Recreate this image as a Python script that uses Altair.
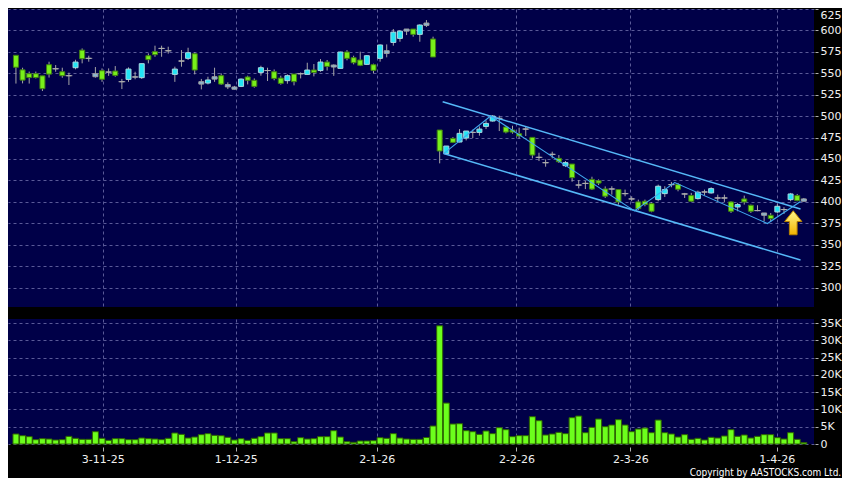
import altair as alt
import pandas as pd

# ---- data (trading-day index 0..119) ----
opens = [571, 554, 549.5, 549.5, 547, 560, 555.3, 551.8, 547.2, 556.5,
         577, 567.4, 546, 553, 551.4, 552.6, 540.2, 542.8, 545.7, 544.9,
         570.5, 575.2, 579, 576.3, 548.7, 564.3, 567.4, 572.8, 537.4, 538.6,
         543.2, 547.2, 534.1, 531.4, 534.7, 545.7, 541.8, 551, 553.2, 551.8,
         544.4, 541.4, 549.1, 549.5, 548.7, 553.8, 553.2, 563.1, 557.3, 555.7,
         574.8, 568.2, 565.5, 560.4, 560, 567.4, 573.2, 586, 590.7, 599.2,
         601.6, 595.4, 605.9, 590, 483.8, 456.2, 474, 469.8, 474.4, 481,
         481, 488, 494.3, 497.4, 487.3, 483.8, 479.5, 484.9, 475.2, 451.9,
         445.7, 455.4, 450.7, 442.2, 444.1, 419.6, 421.5, 426.2, 424.6, 415,
         415, 414.3, 409.6, 403.4, 399.9, 400.7, 397.9, 402.6, 409.6, 420.1,
         420.1, 409.2, 407.3, 403.8, 411.5, 410.4, 404.5, 404.5, 399.9, 394,
         403.4, 396, 389.8, 384.3, 384.3, 388.2, 391, 402.6, 407.3, 400.7]
highs = [571, 556.5, 552, 552, 547, 563.5, 559.6, 556.5, 550.7, 565.8,
         579, 570.5, 557.3, 555.7, 555.7, 558.4, 543.4, 556.9, 551.8, 561.2,
         573.2, 582.2, 582.2, 581, 557.7, 577.1, 579.8, 574.4, 543.4, 546,
         556.5, 549.9, 539.4, 535.3, 544, 547.2, 544, 558.8, 556.5, 554.5,
         547.2, 548.7, 549.1, 551, 562.3, 560.8, 566.6, 565.5, 560.4, 575.2,
         577.1, 570.5, 575.2, 571.3, 561.2, 583.7, 583.7, 601.6, 600.4, 601.6,
         601.6, 607.1, 612.1, 592.7, 483.8, 465.1, 475.6, 484.9, 482.6, 484.2,
         488, 495, 501.3, 500.5, 488, 488.8, 486.5, 487.7, 475.2, 457.3,
         449.5, 458.5, 454.6, 447.6, 444.1, 425.4, 424.3, 429.3, 426.2, 418,
         418.2, 414.3, 414.3, 406.5, 402.6, 402.6, 399.5, 420.1, 418.2, 423.2,
         422, 410.4, 410.4, 413.1, 414.3, 417, 408.4, 408.4, 400.7, 398.7,
         407.3, 396.8, 396, 387, 387, 397.5, 393.7, 410.4, 409.2, 404.5]
lows = [538, 538.2, 538, 544, 529.3, 545, 551.8, 544.8, 536.3, 554.6,
        561.6, 563.5, 544.9, 540, 547, 546, 531.6, 540, 543, 543.4,
        561.6, 569.3, 569.3, 572.9, 540, 557.7, 565.5, 548.7, 531.2, 537,
        540, 536.3, 531.6, 531, 533.9, 537, 533.2, 547.2, 541, 541.8,
        536.7, 537.8, 535.9, 544, 548.3, 546.4, 551.8, 553.2, 547, 555.7,
        565.1, 560.4, 558.4, 559.6, 549.9, 563.5, 568.6, 582.2, 586.8, 594.6,
        592.7, 586.8, 604, 569, 444.9, 455.4, 468.6, 469.4, 471.7, 474.4,
        477.2, 484.9, 493.5, 482.6, 479.9, 479.5, 474, 476.8, 450.7, 447.6,
        441, 450.7, 445.3, 440.6, 423.5, 415.7, 414.9, 413.8, 419.6, 404.6,
        408.4, 396.8, 406.5, 400.7, 390.5, 394.8, 387.8, 400.7, 405.7, 417,
        412.3, 404.5, 399.9, 402.6, 407.3, 409.6, 400.7, 399.9, 387, 389,
        396.8, 387, 389, 377.3, 376.5, 387, 385.9, 400.7, 400.7, 400.7]
closes = [557, 542, 545, 545, 532, 549, 555.3, 547.2, 547.2, 563.1,
          567, 567.4, 549.5, 543, 551.4, 547.5, 540.2, 554.9, 545.7, 561.2,
          565.9, 571.7, 579, 576.3, 554.9, 564.3, 574, 553.8, 540.2, 542.2,
          546, 537.4, 536.8, 534, 543.2, 541.8, 534.7, 556.5, 553.2, 544,
          538.2, 547.2, 540.2, 549.5, 553.8, 551, 563.1, 558, 559.6, 574.8,
          567.4, 562.3, 559.3, 570.5, 553.4, 583, 576.3, 598, 599.2, 601.6,
          595.4, 606.3, 608.6, 569, 459.3, 465.1, 469.4, 479.9, 482.6, 481,
          484.9, 491.5, 500.1, 497.4, 481.4, 481.4, 476.8, 484.9, 454.6, 451.9,
          445.7, 455.4, 446.8, 445.7, 428.2, 419.6, 421.5, 414.9, 421.9, 406.6,
          415, 399.9, 409.6, 403.4, 392.1, 396.8, 389, 418.2, 414.3, 420.1,
          414.7, 409.2, 400.7, 411.2, 411.5, 415.4, 404.5, 404.5, 389, 396.8,
          399.9, 389, 389.8, 387, 380.4, 394.8, 391, 409.2, 401.4, 403.4]
volumes = [2890, 2400, 2120, 1250, 1540, 1440, 1160, 1250, 2210, 1640,
           1350, 1350, 3560, 1640, 1060, 1540, 1540, 1250, 1250, 1730,
           1540, 1440, 1250, 1640, 3180, 2790, 1730, 2020, 2700, 2990,
           2500, 2400, 1930, 1160, 1540, 1060, 1640, 2120, 3180, 3180,
           1540, 1540, 670, 1830, 1440, 1540, 2120, 2120, 3850, 2020,
           670, 480, 870, 870, 960, 1830, 1640, 2990, 1730, 1440,
           1350, 1350, 1880, 5200, 34190, 11840, 5780, 5870, 3850, 3560,
           2790, 3760, 2990, 4720, 4140, 2120, 2410, 2410, 7900, 6740,
           2600, 2890, 3370, 2990, 7610, 8090, 3270, 4810, 7220, 5010,
           5490, 7030, 5490, 3560, 4330, 4620, 3270, 6930, 3270, 2890,
           2020, 2700, 1350, 1640, 1160, 1930, 1730, 2310, 4140, 2210,
           2600, 1730, 2210, 2700, 2700, 1830, 1440, 3270, 1350, 390]
neutral_idx = [12, 28, 30, 32, 33, 48, 56, 59, 62, 113, 119]

tick_idx = [13.1, 33.2, 54.5, 75.6, 92.8, 114.9]
tick_labels = ["3-11-25", "1-12-25", "2-1-26", "2-2-26", "2-3-26", "1-4-26"]

price_ticks = list(range(300, 626, 25))
vol_ticks = list(range(0, 35001, 5000))

upper_ch_i = [64.45, 118.5]
upper_ch_p = [516.8, 391.6]
lower_ch_i = [64.6, 118.5]
lower_ch_p = [456.5, 332.1]
zig_i = [64.6, 71.7, 93.4, 99.5, 113.5, 118.5]
zig_p = [456.2, 500.2, 389.4, 422.5, 374.7, 400.4]
arrow_i = [117.4]
arrow_p = [375.6]

# ---- tables ----
n = len(opens)
kinds = []
for k in range(n):
    if k in neutral_idx:
        kinds.append("neutral")
    elif closes[k] > opens[k]:
        kinds.append("up")
    elif closes[k] < opens[k]:
        kinds.append("down")
    else:
        kinds.append("doji")
df = pd.DataFrame({"i": list(range(n)), "o": opens, "h": highs, "l": lows,
                   "c": closes, "v": volumes, "kind": kinds})
ch = pd.DataFrame({"i": upper_ch_i + lower_ch_i, "p": upper_ch_p + lower_ch_p,
                   "line": ["u", "u", "l", "l"]})
zz = pd.DataFrame({"i": zig_i, "p": zig_p})
ar = pd.DataFrame({"i": arrow_i, "p": arrow_p})

FONT = "DejaVu Sans"
GRID = "#5a5a98"
label_expr = ("[" + ",".join("'%s'" % s for s in tick_labels) + "][indexof(["
              + ",".join(str(t) for t in tick_idx) + "], datum.value)]")

W = 806
xs = alt.Scale(domain=[-0.445, 119.78], nice=False, zero=False)
x_top = alt.X("i:Q", scale=xs, title=None,
              axis=alt.Axis(values=tick_idx, labels=False, ticks=False, domain=False,
                            grid=True, gridColor=GRID, gridDash=[3, 3]))
x_bot = alt.X("i:Q", scale=xs, title=None,
              axis=alt.Axis(values=tick_idx, labelExpr=label_expr, domain=False,
                            ticks=True, tickSize=4, tickColor="#b0b0b0", offset=3,
                            labelPadding=2, labelColor="#f0f0f0", labelFont=FONT,
                            labelFontSize=11, grid=True, gridColor=GRID,
                            gridDash=[3, 3]))

ys = alt.Scale(domain=[277.3, 625], nice=False, zero=False)
price_axis = alt.Axis(orient="right", values=price_ticks, domain=False, tickSize=3,
                      tickColor="#b0b0b0", offset=1, labelPadding=2, labelFlush=True,
                      labelColor="#f0f0f0", labelFont=FONT, labelFontSize=11,
                      grid=True, gridColor=GRID, gridDash=[3, 3])

kind_dom = ["up", "down", "neutral", "doji"]
fill_sc = alt.Scale(domain=kind_dom, range=["#22e4f4", "#78f01a", "#88b8d4", "#a8a8a8"])
stroke_sc = alt.Scale(domain=kind_dom, range=["#a8d8e0", "#3f7f12", "#a0a0a0", "#a8a8a8"])

base = alt.Chart(df)
wicks = base.mark_rule(color="#a6a6a6", strokeWidth=1).encode(
    x=x_top, y=alt.Y("l:Q", scale=ys, axis=price_axis, title=None), y2="h:Q")
bodies = base.mark_bar(size=5, strokeWidth=1).encode(
    x=x_top, y=alt.Y("o:Q", scale=ys, axis=price_axis, title=None), y2="c:Q",
    fill=alt.Fill("kind:N", scale=fill_sc, legend=None),
    stroke=alt.Stroke("kind:N", scale=stroke_sc, legend=None))
dojis = base.transform_filter(alt.datum.kind == "doji").mark_tick(
    orient="horizontal", size=7, thickness=1, color="#b0b0b0").encode(
    x=x_top, y=alt.Y("c:Q", scale=ys, axis=price_axis, title=None))
channel = alt.Chart(ch).mark_line(color="#55b8f8", strokeWidth=1.5).encode(
    x=x_top, y=alt.Y("p:Q", scale=ys, axis=price_axis, title=None), detail="line:N")
zig = alt.Chart(zz).mark_line(color="#40a8ee", strokeWidth=1.1).encode(
    x=x_top, y=alt.Y("p:Q", scale=ys, axis=price_axis, title=None))
arrow_path = "M0,-1L0.72,-0.1L0.32,-0.1L0.32,1L-0.32,1L-0.32,-0.1L-0.72,-0.1Z"
arrow = alt.Chart(ar).mark_point(
    shape=arrow_path, size=576, filled=True, opacity=1, strokeWidth=1, stroke="#b88200",
    fill=alt.LinearGradient(gradient="linear",
                            stops=[alt.GradientStop(color="#fff68a", offset=0),
                                   alt.GradientStop(color="#f2b400", offset=1)],
                            x1=0, x2=0, y1=0, y2=1)).encode(
    x=x_top, y=alt.Y("p:Q", scale=ys, axis=price_axis, title=None))

top = alt.layer(wicks, bodies, dojis, channel, zig, arrow).properties(width=W, height=298)

vol_axis = alt.Axis(orient="right", values=vol_ticks, domain=False, tickSize=3,
                    tickColor="#b0b0b0", offset=1, labelPadding=2,
                    labelColor="#f0f0f0", labelFont=FONT, labelFontSize=11,
                    labelExpr="datum.value == 0 ? '0' : (datum.value / 1000) + 'K'",
                    grid=True, gridColor=GRID, gridDash=[3, 3])
vol = alt.Chart(df).mark_bar(size=6, fill="#6cff1c", stroke="#2e6400", strokeWidth=1).encode(
    x=x_bot,
    y=alt.Y("v:Q", scale=alt.Scale(domain=[0, 36160], nice=False), axis=vol_axis, title=None)
).properties(width=W, height=125)

chart = alt.vconcat(top, vol, spacing=12, bounds="flush").properties(
    padding={"left": 0, "top": 0, "right": 0, "bottom": 0},
    background="black",
    title=alt.TitleParams("Copyright by AASTOCKS.com Ltd.", orient="bottom", anchor="end",
                          color="#ffffff", fontSize=10, font="DejaVu Sans Condensed",
                          fontWeight="normal", offset=4)
).configure_view(fill="#000048", stroke=None)

chart.save("out.html", embed_options={"renderer": "svg", "actions": False})
